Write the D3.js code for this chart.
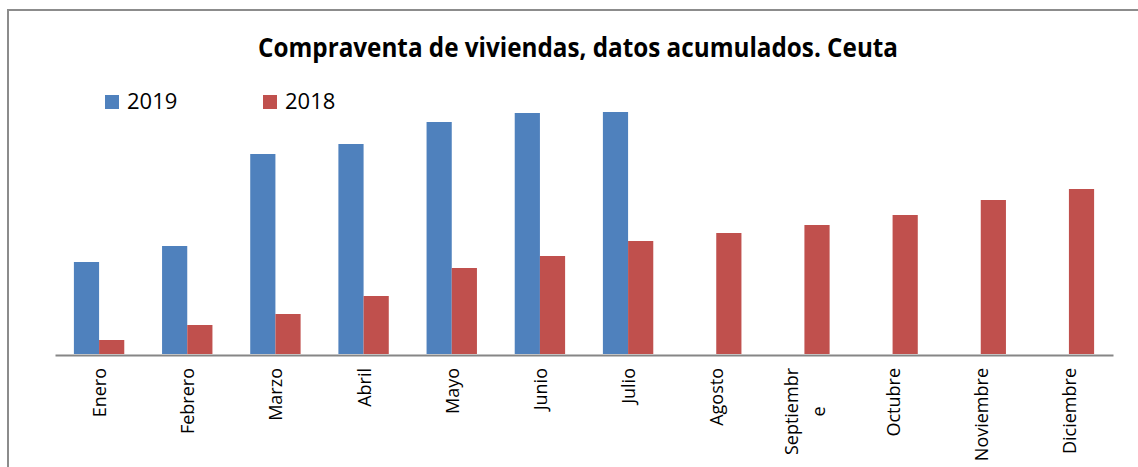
<!DOCTYPE html>
<html>
<head>
<meta charset="utf-8">
<script src="https://cdn.jsdelivr.net/npm/d3@7"></script>
<style>
  html, body { margin: 0; padding: 0; background: #fff; }
  svg { display: block; }
</style>
</head>
<body>
<svg id="chart" width="1138" height="467"></svg>
<script>
// ---- Data (relative units) ----
const categories = ["Enero","Febrero","Marzo","Abril","Mayo","Junio","Julio","Agosto","Septiembre","Octubre","Noviembre","Diciembre"];
const seriesNames = ["2019","2018"];
const values2019 = [92, 108, 200, 210, 232, 241, 242, null, null, null, null, null];
const values2018 = [14, 29, 40, 58, 86, 98, 113, 121, 129, 139, 154, 165];
const titleText = "Compraventa de viviendas, datos acumulados. Ceuta";
const colors = {"2019": "#4F81BD", "2018": "#C0504D"};

const svg = d3.select("#chart");
const W = 1138, H = 467;
const plot = {left: 55, right: 1113, top: 104, bottom: 354};

// chart frame
svg.append("rect")
  .attr("x", 8).attr("y", 10).attr("width", W + 20).attr("height", H + 20)
  .attr("fill", "#fff").attr("stroke", "#8c8c8c").attr("stroke-width", 2);

// title
svg.append("text")
  .attr("x", 578).attr("y", 57)
  .attr("text-anchor", "middle")
  .attr("font-family", "'Open Sans', sans-serif")
  .attr("font-weight", "bold")
  .attr("font-size", 26)
  .attr("textLength", 640)
  .attr("lengthAdjust", "spacingAndGlyphs")
  .attr("fill", "#000")
  .text(titleText);

// scales
const x = d3.scaleBand().domain(categories).range([plot.left, plot.right]).paddingInner(0).paddingOuter(0);
const bw = x.bandwidth();
const barW = bw / 3.5; // gap width 150%
const x1 = d3.scaleBand().domain(seriesNames).range([(bw - 2 * barW) / 2, (bw + 2 * barW) / 2]);
const y = d3.scaleLinear().domain([0, 250]).range([plot.bottom, plot.top]);

const data = categories.map((c, i) => ({cat: c, "2019": values2019[i], "2018": values2018[i]}));

// bars
const groups = svg.append("g").selectAll("g").data(data).join("g")
  .attr("transform", d => `translate(${x(d.cat)},0)`);
groups.selectAll("rect")
  .data(d => seriesNames.filter(s => d[s] != null).map(s => ({s, v: d[s]})))
  .join("rect")
  .attr("x", d => x1(d.s))
  .attr("width", x1.bandwidth())
  .attr("y", d => y(d.v))
  .attr("height", d => y(0) - y(d.v))
  .attr("fill", d => colors[d.s]);

// axis
const axis = d3.axisBottom(x).tickSize(0).tickSizeOuter(0);
const ag = svg.append("g").attr("transform", `translate(0,${plot.bottom + 1})`).call(axis);
ag.select(".domain").attr("stroke", "#868686").attr("stroke-width", 2);
ag.selectAll(".tick text").remove();

const labelFont = 18;
const gapTop = 13; // from axis to label end
const lineStep = 27;
const maxLen = 95;
const measurer = svg.append("text").attr("font-family", "'Open Sans', sans-serif").attr("font-size", labelFont);
function measure(s) { measurer.text(s); return measurer.node().getComputedTextLength(); }
function wrap(s) {
  if (measure(s) <= maxLen) return [s];
  const lines = [];
  let cur = "";
  for (const ch of s) {
    if (measure(cur + ch) > maxLen && cur.length) { lines.push(cur); cur = ch; }
    else cur += ch;
  }
  if (cur) lines.push(cur);
  return lines;
}

ag.selectAll(".tick").each(function(d) {
  const lines = wrap(d);
  const lens = lines.map(measure);
  const mx = d3.max(lens);
  const t = d3.select(this).append("text")
    .attr("transform", "rotate(-90)")
    .attr("font-family", "'Open Sans', sans-serif")
    .attr("font-size", labelFont)
    .attr("fill", "#000");
  lines.forEach((ln, k) => {
    const off = 7 + (k - (lines.length - 1) / 2) * lineStep;
    t.append("tspan")
      .attr("x", lines.length > 1 ? -gapTop - mx / 2 : -gapTop)
      .attr("y", off)
      .attr("text-anchor", lines.length > 1 ? "middle" : "end")
      .text(ln);
  });
});
measurer.remove();

// legend
const legendPos = {"2019": 105, "2018": 263};
const lg = svg.append("g");
seriesNames.forEach(s => {
  lg.append("rect").attr("x", legendPos[s]).attr("y", 95).attr("width", 14).attr("height", 14).attr("fill", colors[s]);
  lg.append("text").attr("x", legendPos[s] + 22).attr("y", 109)
    .attr("font-family", "'Open Sans', sans-serif").attr("font-size", 22).attr("fill", "#000").text(s);
});
</script>
</body>
</html>
